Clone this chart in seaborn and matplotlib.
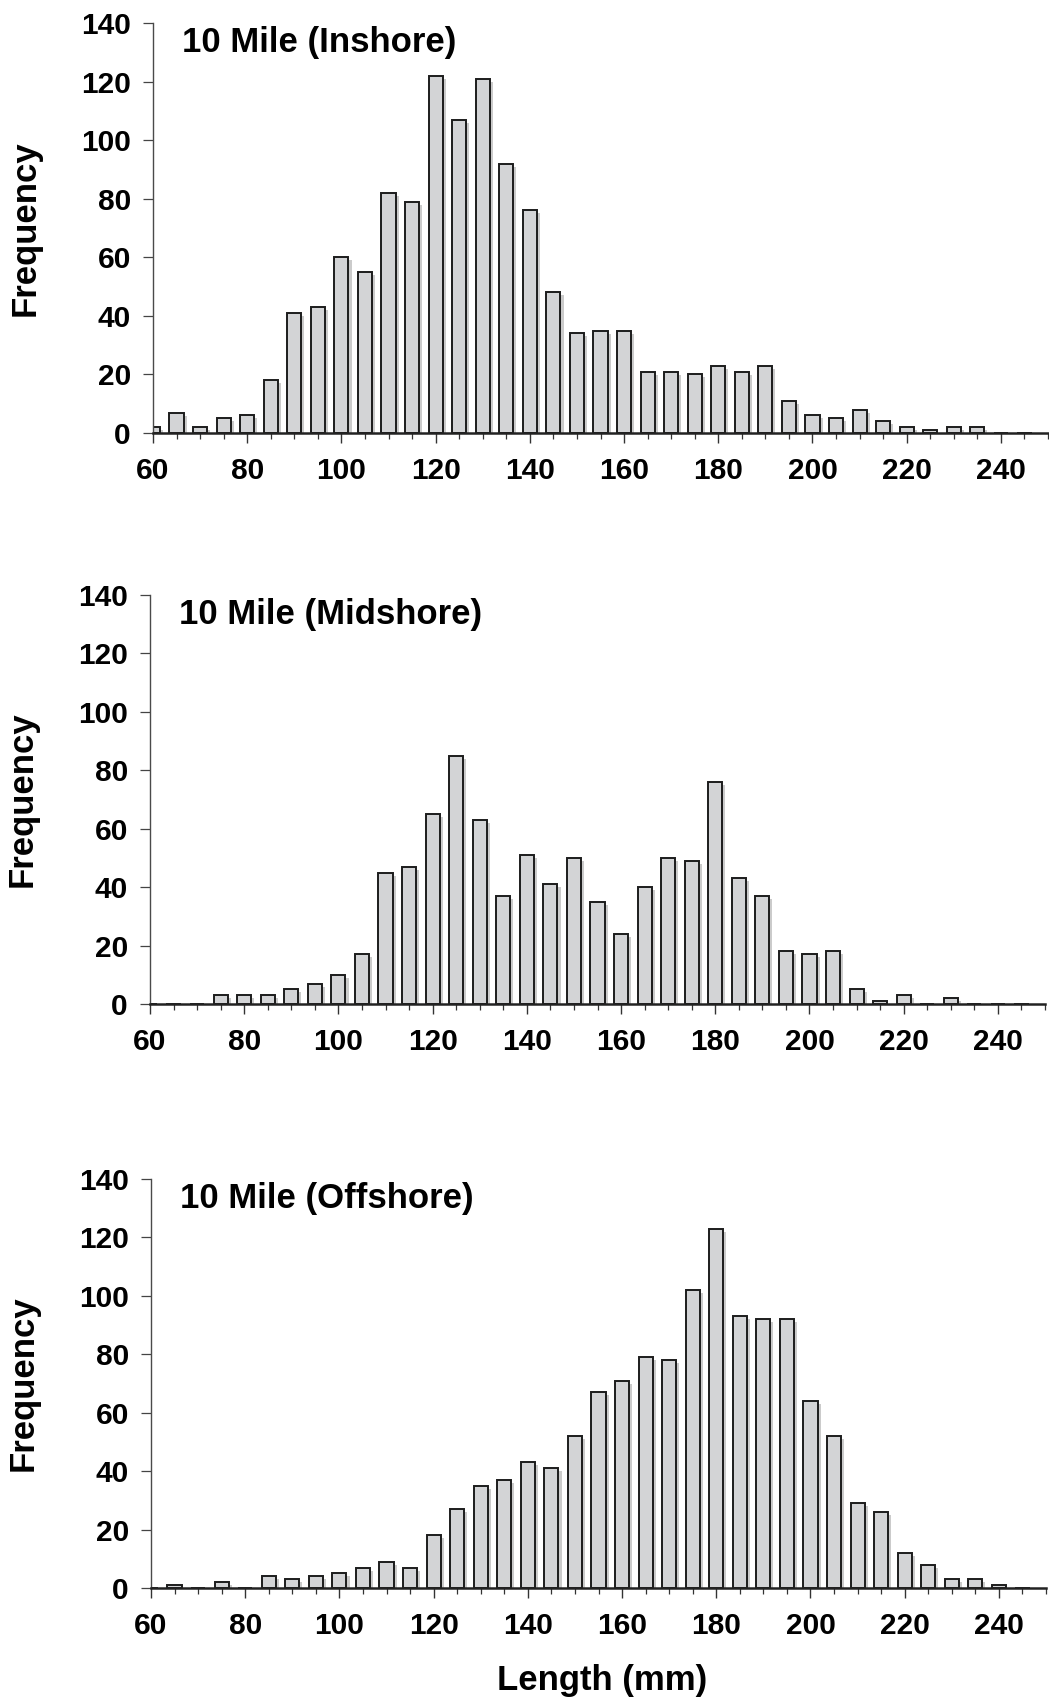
import matplotlib
matplotlib.use("Agg")
import matplotlib.pyplot as plt
import matplotlib.patheffects as pe
from matplotlib.ticker import MultipleLocator
import pandas as pd
import seaborn as sns

# ---------------- data ----------------
lengths = list(range(60, 250, 5))  # bin centres 60 .. 245 mm

inshore = [2, 7, 2, 5, 6, 18, 41, 43, 60, 55, 82, 79, 122, 107, 121, 92, 76, 48,
           34, 35, 35, 21, 21, 20, 23, 21, 23, 11, 6, 5, 8, 4, 2, 1, 2, 2, 0, 0]
midshore = [0, 0, 0, 3, 3, 3, 5, 7, 10, 17, 45, 47, 65, 85, 63, 37, 51, 41,
            50, 35, 24, 40, 50, 49, 76, 43, 37, 18, 17, 18, 5, 1, 3, 0, 2, 0, 0, 0]
offshore = [0, 1, 0, 2, 0, 4, 3, 4, 5, 7, 9, 7, 18, 27, 35, 37, 43, 41,
            52, 67, 71, 79, 78, 102, 123, 93, 92, 92, 64, 52, 29, 26, 12, 8, 3, 3, 1, 0]

titles = ["10 Mile (Inshore)", "10 Mile (Midshore)", "10 Mile (Offshore)"]
series = [inshore, midshore, offshore]
y_ticks = [0, 20, 40, 60, 80, 100, 120, 140]
x_ticks = [60, 80, 100, 120, 140, 160, 180, 200, 220, 240]

# ---------------- style ----------------
sns.set_style("ticks")
plt.rcParams["font.family"] = ["Liberation Sans", "DejaVu Sans"]
plt.rcParams["font.weight"] = "bold"
plt.rcParams["text.color"] = "black"
plt.rcParams["axes.labelcolor"] = "black"

fig = plt.figure(figsize=(10.49, 17.0), dpi=100)

axes_rects = [
    [153 / 1049, (1700 - 433) / 1700, 895 / 1049, 410 / 1700],
    [150 / 1049, (1700 - 1004) / 1700, 895 / 1049, 409 / 1700],
    [151 / 1049, (1700 - 1588) / 1700, 895 / 1049, 409 / 1700],
]

fill = "#d3d4d6"
edge = "#1c1c1c"

for rect, vals, title in zip(axes_rects, series, titles):
    ax = fig.add_axes(rect)
    df = pd.DataFrame({"Length": lengths, "Frequency": vals})
    sns.barplot(data=df, x="Length", y="Frequency", native_scale=True, orient="x",
                width=0.6, color=fill, saturation=1, edgecolor=edge,
                linewidth=1.4, errorbar=None, ax=ax)
    for p in ax.patches:
        p.set_path_effects([pe.SimplePatchShadow(offset=(2.2, -2.2), shadow_rgbFace="0.55", alpha=0.45),
                            pe.Normal()])

    ax.set_xlim(60, 250)
    ax.set_ylim(0, 140)
    ax.set_xticks(x_ticks)
    ax.xaxis.set_minor_locator(MultipleLocator(5))
    ax.set_yticks(y_ticks)
    ax.set_xticklabels([str(t) for t in x_ticks])
    ax.set_yticklabels([str(t) for t in y_ticks])

    for s in ["top", "right"]:
        ax.spines[s].set_visible(False)
    ax.spines["left"].set_color("#4a4a4a")
    ax.spines["left"].set_linewidth(1.0)
    ax.spines["bottom"].set_color("#222222")
    ax.spines["bottom"].set_linewidth(1.8)
    ax.spines["bottom"].set_zorder(3)

    ax.tick_params(axis="y", which="major", direction="out", length=7, width=0.9,
                   color="#444444", labelcolor="black", pad=9, labelsize=21.5)
    ax.tick_params(axis="x", which="major", direction="out", length=7, width=1.0,
                   color="#333333", labelcolor="black", pad=10, labelsize=21.5)
    ax.tick_params(axis="x", which="minor", direction="out", length=4.5, width=0.9,
                   color="#333333")
    for lab in ax.get_xticklabels() + ax.get_yticklabels():
        lab.set_fontweight("bold")

    ax.set_xlabel("")
    ax.set_ylabel("Frequency", fontsize=25, fontweight="bold", color="black")
    ax.yaxis.set_label_coords(-0.124, 0.5)

    ax.text(0.0324, 0.93, title, transform=ax.transAxes, ha="left", va="baseline",
            fontsize=25, fontweight="bold", color="black")

fig.text(602 / 1049, 10 / 1700, "Length (mm)", ha="center", va="baseline",
         fontsize=25, fontweight="bold", color="black")

fig.savefig("out.png", dpi=100)
